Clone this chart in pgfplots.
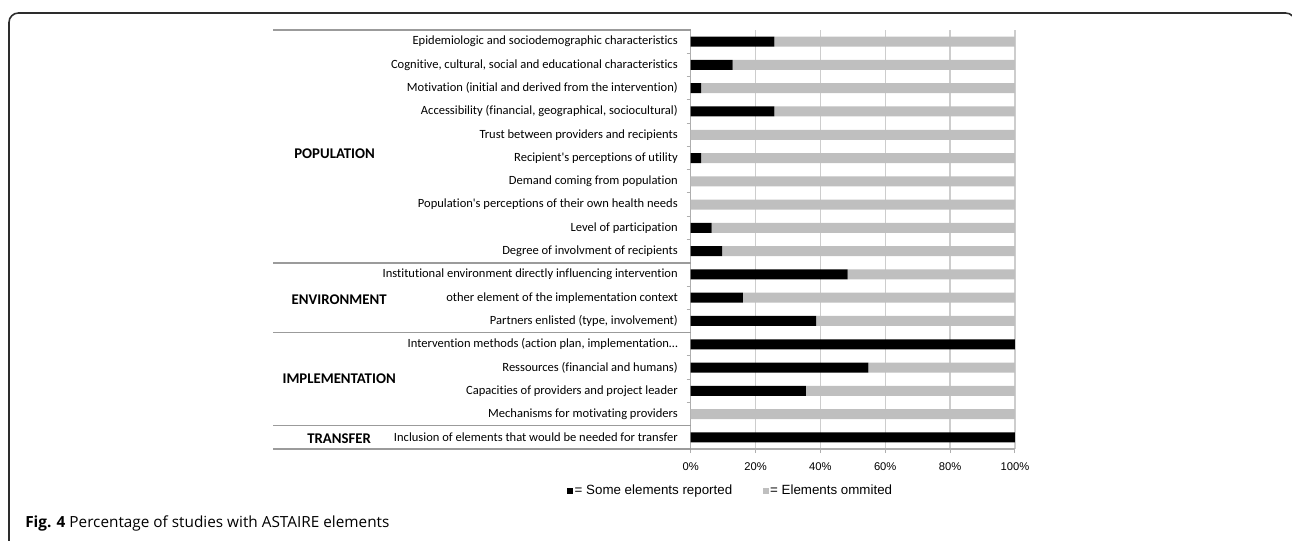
\documentclass[border=0pt]{standalone}
\usepackage{pgfplots}
\usepackage{pgfplotstable}
\pgfplotsset{compat=1.18}
\usepackage{fontspec}
\setmainfont{Liberation Sans}
\newfontfamily\carlito[Ligatures=CommonOff]{Carlito}
\newfontfamily\capfont{Open Sans}
\definecolor{bargrey}{RGB}{191,191,191}
\definecolor{gridgrey}{RGB}{205,205,205}
\definecolor{rulegrey}{RGB}{155,155,155}
\definecolor{framegrey}{RGB}{45,45,45}

% y = row from the bottom; rep = some elements reported, omit = elements omitted (%)
\pgfplotstableread{
y rep omit
17 25.8 74.2
16 12.9 87.1
15 3.2 96.8
14 25.8 74.2
13 0 100
12 3.2 96.8
11 0 100
10 0 100
9 6.5 93.5
8 9.7 90.3
7 48.4 51.6
6 16.1 83.9
5 38.7 61.3
4 100 0
3 54.8 45.2
2 35.5 64.5
1 0 100
0 100 0
}\astaire

\begin{document}
\begin{tikzpicture}
\begin{scope}[x=0.75pt,y=-0.75pt]
\useasboundingbox (0,0) rectangle (1292,540);
\draw[framegrey, line width=1.2pt, rounded corners=7pt] (9,560) -- (9,13) -- (1295,13) -- (1295,560);
\node[anchor=west, inner sep=0pt, font=\capfont\fontsize{11.5}{13}\selectfont] at (25,523)
  {\textbf{Fig. 4} Percentage of studies with ASTAIRE elements};
\end{scope}
\begin{axis}[
  at={(518.0pt,-336.75pt)}, anchor=south west,
  scale only axis, width=243.2pt, height=314.25pt,
  xbar stacked, bar width=7.5pt,
  xmin=0, xmax=100, ymin=-0.5, ymax=17.5,
  clip=false,
  axis x line*=bottom, axis y line*=left,
  axis line style={color=gridgrey!85!black, line width=0.8pt},
  xmajorgrids, grid style={gridgrey, line width=1pt},
  tick align=outside,
  xtick={0,20,40,60,80,100},
  xticklabels={0\%,20\%,40\%,60\%,80\%,100\%},
  major tick length=3pt, minor tick length=3pt,
  xtick style={gridgrey!85!black, line width=0.8pt},
  xticklabel style={font=\fontsize{8.4}{10}\selectfont, inner sep=0pt, anchor=north},
  xticklabel shift=7pt,
  ytick={0,...,17},
  yticklabels={
    {Inclusion of elements that would be needed for transfer},
    {Mechanisms for motivating providers},
    {Capacities of providers and project leader},
    {Ressources (financial and humans)},
    {Intervention methods (action plan, implementation\ldots},
    {Partners enlisted (type, involvement)},
    {other element of the implementation context},
    {Institutional environment directly influencing intervention},
    {Degree of involvment of recipients},
    {Level of participation},
    {Population's perceptions of their own health needs},
    {Demand coming from population},
    {Recipient's perceptions of utility},
    {Trust between providers and recipients},
    {Accessibility (financial, geographical, sociocultural)},
    {Motivation (initial and derived from the intervention)},
    {Cognitive, cultural, social and educational characteristics},
    {Epidemiologic and sociodemographic characteristics}},
  major y tick style={draw=none},
  minor ytick={-0.5,0.5,1.5,2.5,3.5,4.5,5.5,6.5,7.5,8.5,9.5,10.5,11.5,12.5,13.5,14.5,15.5,16.5,17.5},
  minor y tick style={gridgrey!85!black, line width=0.8pt},
  yticklabel style={font=\carlito\fontsize{9.4}{11}\selectfont, inner sep=0pt, anchor=east},
  yticklabel shift=6.5pt,
  legend columns=2,
  legend style={draw=none, fill=none, inner sep=0pt, at={(-0.381,-0.1)}, anchor=west,
    font=\fontsize{10}{12}\selectfont,
    /tikz/every even column/.append style={column sep=22pt},
    nodes={inner sep=1pt}},
  legend image code/.code={\fill[#1] (0pt,-2.2pt) rectangle (4.5pt,2.2pt);},
]
\addplot[fill=black, draw=none] table[x=rep, y=y] {\astaire};
\addplot[fill=bargrey, draw=none] table[x=omit, y=y] {\astaire};
\legend{= Some elements reported, = Elements ommited}
% table rules and section names on the left
\pgfplotsinvokeforeach{17.5,7.5,4.5,0.5,-0.5}{
  \draw[rulegrey, line width=1.1pt] (axis cs:0,#1) -- ++(-313.3pt,0pt);
}
\node[font=\carlito\bfseries\fontsize{11.1}{13}\selectfont, inner sep=0pt] at (axis cs:-109.8,12.17) {POPULATION};
\node[font=\carlito\bfseries\fontsize{11.1}{13}\selectfont, inner sep=0pt] at (axis cs:-108.4,5.93) {ENVIRONMENT};
\node[font=\carlito\bfseries\fontsize{11.1}{13}\selectfont, inner sep=0pt] at (axis cs:-108.4,2.54) {IMPLEMENTATION};
\node[font=\carlito\bfseries\fontsize{11.1}{13}\selectfont, inner sep=0pt] at (axis cs:-108.4,-0.04) {TRANSFER};
\end{axis}
\end{tikzpicture}
\end{document}
